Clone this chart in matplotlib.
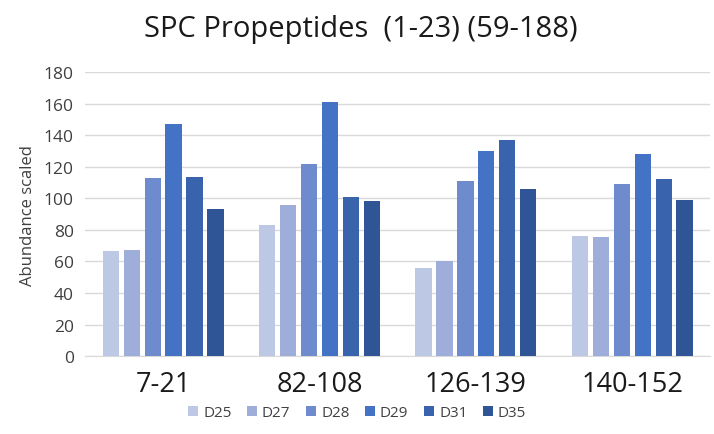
import matplotlib

matplotlib.use("Agg")
import matplotlib.pyplot as plt
import numpy as np

plt.rcParams["font.family"] = ["Open Sans", "DejaVu Sans"]

categories = ["7-21", "82-108", "126-139", "140-152"]
series = ["D25", "D27", "D28", "D29", "D31", "D35"]
values = {
    "D25": [66.5, 83, 56, 76],
    "D27": [67, 96, 60, 75.5],
    "D28": [113, 122, 111, 109],
    "D29": [147, 161, 130, 128],
    "D31": [113.5, 101, 137, 112],
    "D35": [93, 98, 106, 99],
}
colors = ["#bcc8e4", "#9eadd9", "#6e8bcd", "#4472c4", "#3a63ad", "#2f5597"]

fig = plt.figure(figsize=(7.14, 4.35), dpi=100)
ax = fig.add_axes([0.119, 0.179, 0.876, 0.653])

x = np.arange(len(categories))
step = 0.134
width = 0.104
for i, (name, col) in enumerate(zip(series, colors)):
    offs = (i - (len(series) - 1) / 2) * step
    ax.bar(x + offs, values[name], width=width, color=col, label=name, zorder=3)

ax.set_xlim(-0.5, len(categories) - 0.5)
ax.set_ylim(0, 180)
ax.set_yticks(np.arange(0, 181, 20))
ax.yaxis.grid(True, color="#d9d9d9", linewidth=1, zorder=0)
for s in ["top", "right", "left"]:
    ax.spines[s].set_visible(False)
ax.spines["bottom"].set_color("#d9d9d9")
ax.tick_params(axis="both", length=0)
ax.tick_params(axis="y", labelsize=12.5, labelcolor="#404040", pad=8)
ax.set_xticks(x)
ax.set_xticklabels(categories, fontsize=19.5, color="#1a1a1a")
ax.tick_params(axis="x", pad=10)
ax.set_ylabel("Abundance scaled", fontsize=12, color="#404040", labelpad=6)

fig.suptitle("SPC Propeptides  (1-23) (59-188)", fontsize=21, color="#1a1a1a",
             x=0.505, y=0.965)

fig.legend(loc="lower center", bbox_to_anchor=(0.5, 0.0), ncol=6, frameon=False,
           fontsize=11, handlelength=0.7, handleheight=0.7, handletextpad=0.3,
           columnspacing=1.0, labelcolor="#404040")

fig.savefig("out.png", dpi=100)
